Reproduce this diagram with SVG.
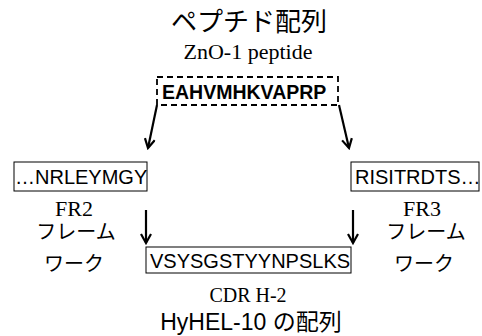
<svg xmlns="http://www.w3.org/2000/svg" width="482" height="336" viewBox="0 0 482 336">
<defs>
<style>
.jp{font-family:"Liberation Sans","Noto Sans CJK JP",sans-serif;fill:#000;text-anchor:middle}
.serif{font-family:"Liberation Serif",serif;fill:#000;text-anchor:middle}
.seq{font-family:"Liberation Sans",Arial,sans-serif;fill:#000;font-size:20px}
.box{fill:#fff;stroke:#000;stroke-width:1}
.conn{stroke:#000;stroke-width:2.2;fill:none}
</style>
<marker id="ah" viewBox="0 0 12 12" refX="10" refY="6" markerWidth="12" markerHeight="12" markerUnits="userSpaceOnUse" orient="auto">
<path d="M1,1 L10,6 L1,11" fill="none" stroke="#000" stroke-width="2.2"/>
</marker>
</defs>
<rect width="482" height="336" fill="#fff"/>
<g id="title">
<text class="jp" x="249" y="31" font-size="26">ペプチド配列</text>
<text class="serif" x="248" y="59" font-size="22">ZnO-1 peptide</text>
</g>
<g id="peptide">
<rect x="157" y="77" width="181" height="28" fill="#fff" stroke="#000" stroke-width="1.8" stroke-dasharray="6,4"/>
<text x="162" y="99" font-family="Liberation Sans,Arial,sans-serif" font-weight="bold" font-size="19.5">EAHVMHKVAPRP</text>
</g>
<g id="fr2">
<rect class="box" x="14" y="162" width="133" height="29"/>
<text class="seq" x="15" y="184" font-size="19.5">…NRLEYMGY</text>
<text class="serif" x="74" y="216" font-size="22">FR2</text>
<text class="jp" x="76" y="239" font-size="20">フレーム</text>
<text class="jp" x="74" y="271" font-size="20">ワーク</text>
</g>
<g id="fr3">
<rect class="box" x="351" y="162" width="128" height="29"/>
<text class="seq" x="355" y="184" font-size="19.5">RISITRDTS…</text>
<text class="serif" x="422" y="216" font-size="22">FR3</text>
<text class="jp" x="426" y="239" font-size="20">フレーム</text>
<text class="jp" x="424" y="271" font-size="20">ワーク</text>
</g>
<g id="cdr">
<rect class="box" x="146" y="247" width="205" height="26"/>
<text class="seq" x="150" y="268">VSYSGSTYYNPSLKS</text>
<text class="serif" x="248" y="302" font-size="20">CDR H-2</text>
<text class="jp" x="251" y="330" font-size="23">HyHEL-10 の配列</text>
</g>
<g id="connectors">
<line class="conn" x1="157" y1="105" x2="148" y2="148" marker-end="url(#ah)"/>
<line class="conn" x1="339" y1="105" x2="349" y2="148" marker-end="url(#ah)"/>
<line class="conn" x1="146" y1="210" x2="146" y2="243" marker-end="url(#ah)"/>
<line class="conn" x1="353" y1="210" x2="353" y2="243" marker-end="url(#ah)"/>
</g>
</svg>
